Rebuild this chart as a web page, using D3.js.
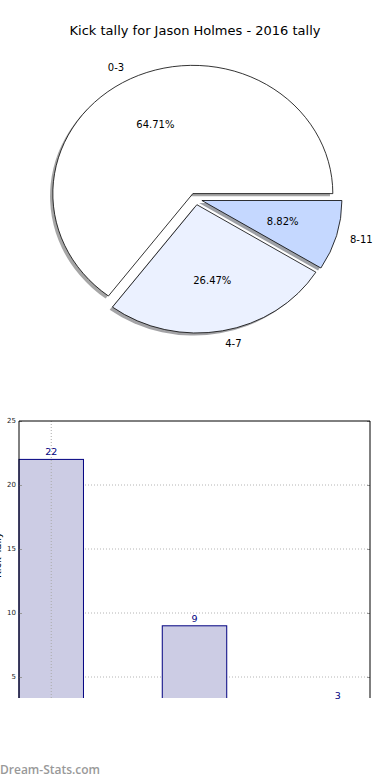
<!DOCTYPE html>
<html lang="en">
<head>
  <meta charset="UTF-8">
  <title>Kick tally for Jason Holmes - 2016 tally</title>
  <style>
    body { margin: 0; background: #fff; }
    svg { display: block; font-family: "DejaVu Sans", sans-serif; }
  </style>
</head>
<body>
  <svg id="chart"></svg>
  <script src="https://cdn.jsdelivr.net/npm/d3@7"></script>
  <script>
    // data
    var categories = ["0-3", "4-7", "8-11"];
    var tally = [22, 9, 3];
    var yTicks = [5, 10, 15, 20, 25];
    var sliceColors = ["#ffffff", "#ebf1ff", "#c5d8ff"];

    var width = 390, height = 780;
    var svg = d3.select("#chart").attr("width", width).attr("height", height);

    svg.append("text")
      .attr("x", 195).attr("y", 35)
      .attr("text-anchor", "middle")
      .style("font-size", "13px")
      .text("Kick tally for Jason Holmes - 2016 tally");

    // ---- pie (slightly squashed, like the original) ----
    var cx = 195.7, cy = 198.9, rx = 140, ry = 128.3, explode = 0.046;
    var total = d3.sum(tally);
    var pie = d3.pie().sort(null)
      .startAngle(Math.PI / 2)
      .endAngle(Math.PI / 2 - 2 * Math.PI);
    var arcs = pie(tally);
    var arc = d3.arc().innerRadius(0).outerRadius(1);

    arcs.forEach(function (d, i) {
      var mid = (d.startAngle + d.endAngle) / 2;
      d.ux = Math.sin(mid);
      d.uy = -Math.cos(mid);
      d.ox = cx + d.ux * explode * rx;
      d.oy = cy + d.uy * explode * ry;
      d.cat = categories[i];
      d.color = sliceColors[i];
    });

    var pieG = svg.append("g");

    // shadows first, below all wedges
    pieG.selectAll("path.shadow")
      .data(arcs).enter().append("path")
      .attr("class", "shadow")
      .attr("transform", function (d) {
        return "translate(" + (d.ox - 0.02 * rx) + "," + (d.oy + 0.02 * ry) + ") scale(" + rx + "," + ry + ")";
      })
      .attr("d", arc)
      .attr("fill", function (d) {
        var c = d3.rgb(d.color);
        return d3.rgb(c.r * 0.3, c.g * 0.3, c.b * 0.3);
      })
      .attr("fill-opacity", 0.5);

    pieG.selectAll("path.wedge")
      .data(arcs).enter().append("path")
      .attr("class", "wedge")
      .attr("transform", function (d) {
        return "translate(" + d.ox + "," + d.oy + ") scale(" + rx + "," + ry + ")";
      })
      .attr("d", arc)
      .attr("fill", function (d) { return d.color; })
      .attr("stroke", "#000")
      .attr("stroke-width", 0.8)
      .attr("vector-effect", "non-scaling-stroke");

    pieG.selectAll("text.lbl")
      .data(arcs).enter().append("text")
      .attr("class", "lbl")
      .attr("x", function (d) { return d.ox + 1.1 * rx * d.ux; })
      .attr("y", function (d) { return d.oy + 1.1 * ry * d.uy; })
      .attr("text-anchor", function (d) { return d.ux > 0 ? "start" : "end"; })
      .attr("dominant-baseline", "central")
      .style("font-size", "10px")
      .text(function (d) { return d.cat; });

    pieG.selectAll("text.pct")
      .data(arcs).enter().append("text")
      .attr("class", "pct")
      .attr("x", function (d) { return d.ox + 0.6 * rx * d.ux; })
      .attr("y", function (d) { return d.oy + 0.6 * ry * d.uy; })
      .attr("text-anchor", "middle")
      .attr("dominant-baseline", "central")
      .style("font-size", "10px")
      .text(function (d) { return (d.value / total * 100).toFixed(2) + "%"; });

    // ---- bar chart (cut off at the bottom, as in the picture) ----
    var axLeft = 19, axRight = 370, axTop = 421, axCut = 698;
    var x = d3.scaleBand().domain(categories).range([axLeft, axRight])
      .paddingInner(0.55).paddingOuter(0);
    var y = d3.scaleLinear().domain([0, 25]).range([741, axTop]);

    svg.append("clipPath").attr("id", "clip")
      .append("rect").attr("x", axLeft - 1).attr("y", axTop - 1)
      .attr("width", axRight - axLeft + 2).attr("height", axCut - axTop + 1);

    var plot = svg.append("g").attr("clip-path", "url(#clip)");

    plot.selectAll("line.hgrid")
      .data(yTicks.slice(0, -1)).enter().append("line")
      .attr("x1", axLeft).attr("x2", axRight)
      .attr("y1", function (d) { return y(d); })
      .attr("y2", function (d) { return y(d); })
      .attr("stroke", "#b4b4b4").attr("stroke-dasharray", "1,2");

    plot.selectAll("rect.bar")
      .data(tally).enter().append("rect")
      .attr("x", function (d, i) { return x(categories[i]); })
      .attr("y", function (d) { return y(d); })
      .attr("width", x.bandwidth())
      .attr("height", function (d) { return y(0) - y(d); })
      .attr("fill", "#ccccE4")
      .attr("stroke", "#000080")
      .attr("stroke-width", 1);

    plot.append("line")
      .attr("x1", x(categories[0]) + x.bandwidth() / 2)
      .attr("x2", x(categories[0]) + x.bandwidth() / 2)
      .attr("y1", axTop).attr("y2", axCut)
      .attr("stroke", "#aaa").attr("stroke-dasharray", "1,2");

    var yl = plot.append("g").attr("transform", "translate(" + axLeft + ",0)")
      .call(d3.axisLeft(y).tickValues(yTicks).tickSize(-3).tickFormat(""));
    var yr = plot.append("g").attr("transform", "translate(" + axRight + ",0)")
      .call(d3.axisRight(y).tickValues(yTicks).tickSize(-3).tickFormat(""));
    [yl, yr].forEach(function (g) {
      g.select(".domain").remove();
      g.selectAll(".tick line").attr("stroke", "#999");
    });

    // tick labels sit outside the clip
    svg.selectAll("text.ytick")
      .data(yTicks).enter().append("text")
      .attr("class", "ytick")
      .attr("x", axLeft - 3).attr("y", function (d) { return y(d); })
      .attr("text-anchor", "end")
      .attr("dominant-baseline", "central")
      .attr("fill", "#222")
      .style("font-size", "7px")
      .text(function (d) { return d; });

    plot.append("path")
      .attr("d", "M" + axLeft + "," + axCut + "V" + axTop + "H" + axRight + "V" + axCut)
      .attr("fill", "none").attr("stroke", "#000").attr("stroke-width", 1);

    svg.selectAll("text.val")
      .data(tally).enter().append("text")
      .attr("class", "val")
      .attr("x", function (d, i) { return x(categories[i]) + x.bandwidth() / 2; })
      .attr("y", function (d) { return y(d) - 4; })
      .attr("text-anchor", "middle")
      .attr("fill", "#000080")
      .style("font-size", "9.5px")
      .text(function (d) { return d; });

    // y label is mostly off the left edge in the original
    svg.append("text")
      .attr("transform", "translate(1,555) rotate(-90)")
      .attr("text-anchor", "middle")
      .style("font-size", "10px")
      .text("Kick Tally");

    svg.append("text")
      .attr("x", 0).attr("y", 774)
      .style("font-family", "'Open Sans', sans-serif")
      .style("font-weight", 600)
      .style("font-size", "12px")
      .attr("fill", "#999")
      .text("Dream-Stats.com");
  </script>
</body>
</html>
